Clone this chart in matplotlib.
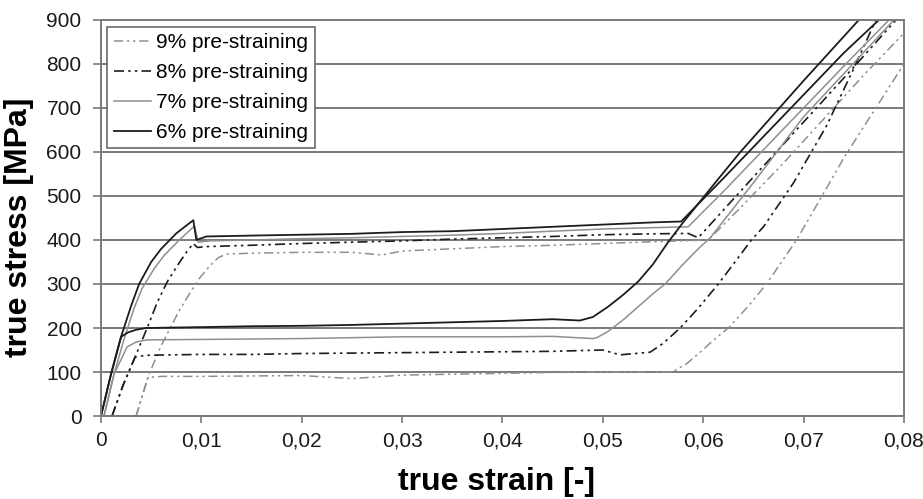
import matplotlib
matplotlib.use("Agg")
import matplotlib.pyplot as plt

# ---- data (strain [-], stress [MPa]) ----

s6_up_x = [0, 0.001, 0.002, 0.003, 0.0038, 0.005, 0.006, 0.0075, 0.0088, 0.0092, 0.0095,
           0.0105, 0.015, 0.02, 0.025, 0.03, 0.035, 0.04, 0.045, 0.05, 0.055, 0.0578,
           0.062, 0.066, 0.07, 0.074, 0.0775]
s6_up_y = [0, 95, 180, 250, 300, 350, 380, 415, 438, 445, 400,
           408, 410, 412, 414, 418, 420, 425, 430, 435, 440, 442,
           540, 635, 730, 825, 900]

s6_lo_x = [0, 0.001, 0.002, 0.0027, 0.0035, 0.0045, 0.01, 0.015, 0.02, 0.025, 0.03,
           0.035, 0.04, 0.045, 0.0477, 0.049, 0.0505, 0.052, 0.0535, 0.055, 0.0565,
           0.058, 0.0614, 0.0637, 0.07, 0.0755]
s6_lo_y = [0, 95, 180, 190, 196, 200, 202, 204, 205, 207, 210,
           213, 216, 220, 217, 225, 248, 275, 305, 345, 395,
           440, 536, 600, 762, 900]

s7_up_x = [0.0003, 0.0013, 0.0023, 0.0033, 0.0041, 0.0053, 0.0063, 0.0078, 0.0089, 0.0093,
           0.0097, 0.0108, 0.015, 0.02, 0.025, 0.03, 0.035, 0.04, 0.045, 0.05, 0.055,
           0.0585, 0.062, 0.066, 0.07, 0.074, 0.0785]
s7_up_y = [0, 95, 175, 245, 290, 335, 365, 400, 423, 432,
           395, 398, 400, 403, 405, 408, 411, 415, 420, 425, 428,
           430, 510, 605, 700, 795, 900]

s7_lo_x = [0.0003, 0.0013, 0.0026, 0.0035, 0.0046, 0.01, 0.015, 0.02, 0.025, 0.03,
           0.035, 0.04, 0.045, 0.049, 0.0494, 0.0505, 0.052, 0.0535, 0.055, 0.0562,
           0.058, 0.0595, 0.0607, 0.065, 0.07, 0.079]
s7_lo_y = [0, 95, 157, 168, 173, 174, 175, 176, 178, 180,
           180, 180, 181, 176, 178, 192, 218, 248, 278, 300,
           345, 380, 405, 530, 680, 900]

s8_up_x = [0.0011, 0.0022, 0.0034, 0.0046, 0.0056, 0.0066, 0.0077, 0.0086, 0.0092, 0.0096,
           0.0105, 0.015, 0.02, 0.025, 0.03, 0.035, 0.04, 0.045, 0.05, 0.055, 0.0585,
           0.0595, 0.063, 0.067, 0.071, 0.075, 0.0792]
s8_up_y = [0, 70, 134, 200, 258, 305, 345, 375, 392, 383,
           385, 388, 392, 395, 398, 402, 405, 408, 412, 414, 415,
           405, 493, 593, 693, 793, 900]

s8_lo_x = [0.0011, 0.0022, 0.0034, 0.0045, 0.01, 0.015, 0.02, 0.025, 0.03, 0.035,
           0.04, 0.045, 0.05, 0.0517, 0.0547, 0.056, 0.0577, 0.0595, 0.0615, 0.063,
           0.0648, 0.066, 0.069, 0.0723, 0.075, 0.0772]
s8_lo_y = [0, 70, 134, 138, 140, 140, 142, 143, 144, 145,
           146, 147, 150, 139, 145, 165, 200, 245, 300, 345,
           400, 430, 530, 660, 790, 900]

s9_up_x = [0.0035, 0.0047, 0.006, 0.0078, 0.0097, 0.0108, 0.0117, 0.0125, 0.015, 0.02,
           0.025, 0.028, 0.03, 0.035, 0.04, 0.045, 0.05, 0.055, 0.0605,
           0.064, 0.068, 0.072, 0.076, 0.08]
s9_up_y = [0, 90, 160, 240, 310, 340, 360, 368, 370, 372,
           372, 366, 375, 380, 385, 388, 392, 396, 400,
           480, 575, 675, 775, 870]

s9_lo_x = [0.0035, 0.0047, 0.006, 0.01, 0.015, 0.02, 0.025, 0.03, 0.035, 0.04,
           0.045, 0.05, 0.0569, 0.0583, 0.0597, 0.061, 0.0625, 0.0645, 0.0663, 0.0678,
           0.0693, 0.0741, 0.08]
s9_lo_y = [0, 88, 90, 90, 91, 92, 85, 93, 95, 97,
           99, 100, 100, 118, 145, 172, 200, 250, 300, 350,
           400, 590, 800]

x_ticks = [0, 0.01, 0.02, 0.03, 0.04, 0.05, 0.06, 0.07, 0.08]
x_tick_labels = ["0", "0,01", "0,02", "0,03", "0,04", "0,05", "0,06", "0,07", "0,08"]
y_ticks = [0, 100, 200, 300, 400, 500, 600, 700, 800, 900]

# ---- styles ----
BLACK = "#1c1c1c"
GREY = "#8f8f8f"
DASHDOTDOT = (0, (6, 2.5, 1.5, 2.5, 1.5, 2.5))

plt.rcParams["font.family"] = ["Liberation Sans", "DejaVu Sans"]

fig = plt.figure(figsize=(9.23, 4.99), dpi=100)
ax = fig.add_axes([0.1094, 0.1663, 0.8700, 0.7937])

# grid first so the curves sit above it
ax.set_axisbelow(True)
ax.grid(axis="y", color="#7a7a7a", linewidth=1.4)
ax.grid(axis="x", visible=False)

ax.plot(s9_up_x, s9_up_y, color=GREY, linestyle=DASHDOTDOT, linewidth=1.1,
        label="9% pre-straining")
ax.plot(s9_lo_x, s9_lo_y, color=GREY, linestyle=DASHDOTDOT, linewidth=1.1)

ax.plot(s8_up_x, s8_up_y, color=BLACK, linestyle=DASHDOTDOT, linewidth=1.2,
        label="8% pre-straining")
ax.plot(s8_lo_x, s8_lo_y, color=BLACK, linestyle=DASHDOTDOT, linewidth=1.2)

ax.plot(s7_up_x, s7_up_y, color=GREY, linestyle="-", linewidth=1.1,
        label="7% pre-straining")
ax.plot(s7_lo_x, s7_lo_y, color=GREY, linestyle="-", linewidth=1.1)

ax.plot(s6_up_x, s6_up_y, color=BLACK, linestyle="-", linewidth=1.3,
        label="6% pre-straining")
ax.plot(s6_lo_x, s6_lo_y, color=BLACK, linestyle="-", linewidth=1.3)

ax.set_xlim(0, 0.08)
ax.set_ylim(0, 900)

ax.set_xticks(x_ticks)
ax.set_xticklabels(x_tick_labels)
ax.set_yticks(y_ticks)

ax.tick_params(axis="both", direction="out", width=1.2, color="#7a7a7a",
               labelsize=15, labelcolor="#1a1a1a")
ax.tick_params(axis="x", length=5, pad=6)
ax.tick_params(axis="y", length=6, pad=8)

for side in ["left", "bottom", "right", "top"]:
    ax.spines[side].set_color("#7a7a7a")
    ax.spines[side].set_linewidth(1.4)

ax.set_xlabel("true strain [-]", fontsize=23, fontweight="bold")
ax.set_ylabel("true stress [MPa]", fontsize=23, fontweight="bold")
ax.xaxis.set_label_coords(0.492, -0.128)
ax.yaxis.set_label_coords(-0.083, 0.477)

leg = ax.legend(loc="upper left", bbox_to_anchor=(0.008, 0.982), fontsize=15,
                frameon=True, fancybox=False, framealpha=1.0, borderpad=0.3,
                handlelength=1.8, handletextpad=0.25, labelspacing=0.52,
                borderaxespad=0.0)
leg.get_frame().set_edgecolor("#6a6a6a")
leg.get_frame().set_linewidth(1.2)

plt.savefig("out.png", dpi=100)
plt.close()
